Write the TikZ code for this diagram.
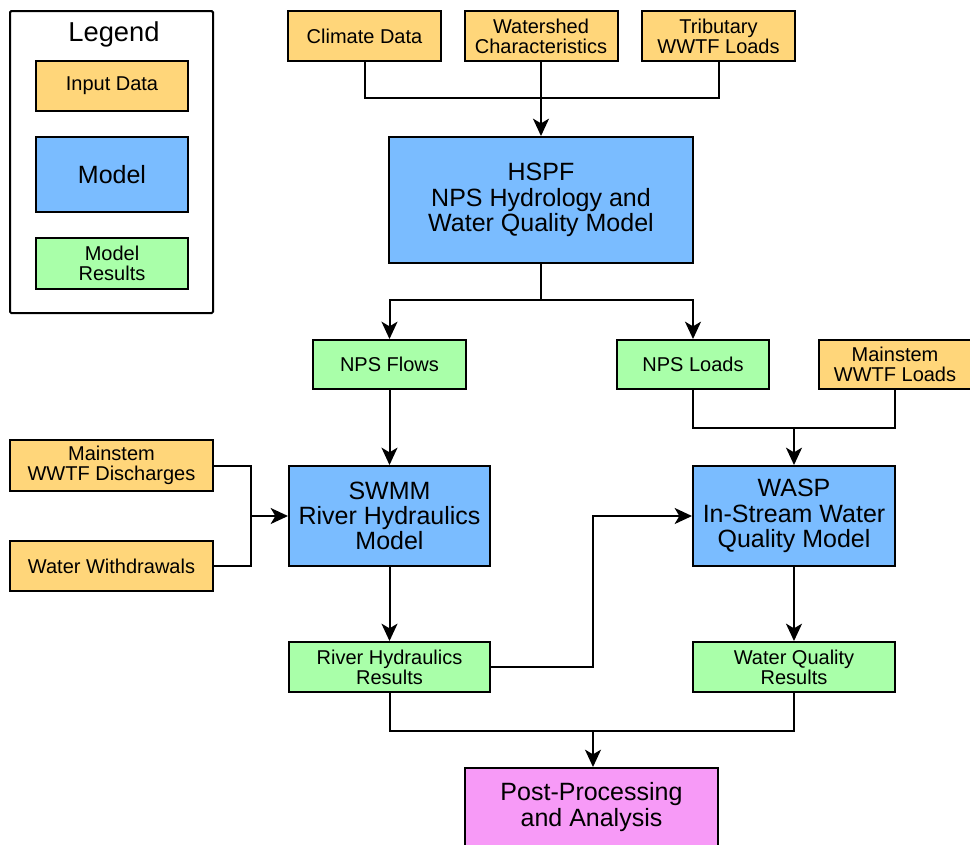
\documentclass[tikz,border=0pt]{standalone}
\usepackage{fontspec}
\setmainfont{Liberation Sans}
\usetikzlibrary{arrows.meta}
\definecolor{inputc}{HTML}{FFD67A}
\definecolor{modelc}{HTML}{7ABCFF}
\definecolor{resc}{HTML}{A9FFA9}
\definecolor{postc}{HTML}{F79AF7}
\tikzset{
  box/.style={draw=black, line width=1.5pt, align=center, inner sep=0pt},
  smallfont/.style={font=\fontsize{15}{15}\selectfont},
  bigfont/.style={font=\fontsize{18.75}{19}\selectfont},
  inbox/.style={box, fill=inputc, smallfont},
  modbox/.style={box, fill=modelc, bigfont},
  resbox/.style={box, fill=resc, smallfont},
  postbox/.style={box, fill=postc, bigfont},
  conn/.style={line width=1.5pt, line join=miter},
  arr/.style={conn, -{Stealth[length=13pt,width=12pt,inset=3.5pt]}},
}
\begin{document}
\begin{tikzpicture}[x=0.75pt,y=-0.75pt]
\useasboundingbox (0,0) rectangle (970,844);
\clip (0,0) rectangle (970,844);
% legend
\node[draw=black, line width=1.5pt, rounded corners=1pt, minimum width=203*0.75pt, minimum height=302*0.75pt] (legend) at (111.5,162) {};
\node[font=\fontsize{20.5}{21}\selectfont, inner sep=0pt] (legtitle) at (114,34) {Legend};
\node[inbox, minimum width=152*0.75pt, minimum height=50*0.75pt] (lin) at (112,86) {Input Data};
\node[modbox, minimum width=152*0.75pt, minimum height=75*0.75pt] (lmod) at (112,174.5) {Model};
\node[resbox, minimum width=152*0.75pt, minimum height=51*0.75pt] (lres) at (112,263.5) {Model\\Results};
% inputs top
\node[inbox, minimum width=153*0.75pt, minimum height=50*0.75pt] (climate) at (364.5,36) {Climate Data};
\node[inbox, minimum width=153*0.75pt, minimum height=50*0.75pt] (water) at (541,36) {Watershed\\Characteristics};
\node[inbox, minimum width=153*0.75pt, minimum height=50*0.75pt] (trib) at (718.5,36) {Tributary\\WWTF Loads};
% HSPF
\node[modbox, minimum width=304*0.75pt, minimum height=126*0.75pt] (hspf) at (541,200) {HSPF\\NPS Hydrology and\\Water Quality Model};
% NPS results
\node[resbox, minimum width=153*0.75pt, minimum height=49*0.75pt] (nflows) at (389.5,364.5) {NPS Flows};
\node[resbox, minimum width=152*0.75pt, minimum height=49*0.75pt] (nloads) at (693,364.5) {NPS Loads};
\node[inbox, minimum width=152*0.75pt, minimum height=49*0.75pt] (mload) at (895,364.5) {Mainstem\\WWTF Loads};
% left inputs
\node[inbox, minimum width=203*0.75pt, minimum height=51*0.75pt] (mdis) at (111.5,465.5) {Mainstem\\WWTF Discharges};
\node[inbox, minimum width=203*0.75pt, minimum height=50*0.75pt] (wwd) at (111.5,566) {Water Withdrawals};
% models
\node[modbox, minimum width=201*0.75pt, minimum height=100*0.75pt] (swmm) at (389.5,516) {SWMM\\River Hydraulics\\Model};
\node[modbox, minimum width=202*0.75pt, minimum height=100*0.75pt] (wasp) at (794,516) {WASP\\In-Stream Water\\Quality Model};
% results
\node[resbox, minimum width=201*0.75pt, minimum height=50*0.75pt] (rhr) at (389.5,667) {River Hydraulics\\Results};
\node[resbox, minimum width=202*0.75pt, minimum height=50*0.75pt] (wqr) at (794,667) {Water Quality\\Results};
% post
\node[postbox, minimum width=253*0.75pt, minimum height=78*0.75pt] (post) at (591.5,807) {Post-Processing\\and Analysis};
% junctions
\coordinate (j1) at (541,98);
\coordinate (j2) at (541,300);
\coordinate (j3) at (794,428);
\coordinate (j4) at (251,516);
\coordinate (j5) at (593,516);
\coordinate (j6) at (593,731);
% connectors
\draw[conn] (climate.south) |- (j1) -| (trib.south);
\draw[arr] (water.south) -- (water.south |- hspf.north);
\draw[conn] (hspf.south) -- (j2);
\draw[arr] (j2) -| (nflows.north);
\draw[arr] (j2) -| (nloads.north);
\draw[conn] (nloads.south) |- (j3) -| (mload.south);
\draw[arr] (j3) -- (j3 |- wasp.north);
\draw[arr] (nflows.south) -- (nflows.south |- swmm.north);
\draw[conn] (mdis.east) -| (j4) |- (wwd.east);
\draw[arr] (j4) -- (swmm.west);
\draw[arr] (swmm.south) -- (rhr.north);
\draw[arr] (rhr.east) -| (j5) -- (wasp.west);
\draw[arr] (wasp.south) -- (wqr.north);
\draw[conn] (rhr.south) |- (j6) -| (wqr.south);
\draw[arr] (j6) -- (j6 |- post.north);
\end{tikzpicture}
\end{document}
